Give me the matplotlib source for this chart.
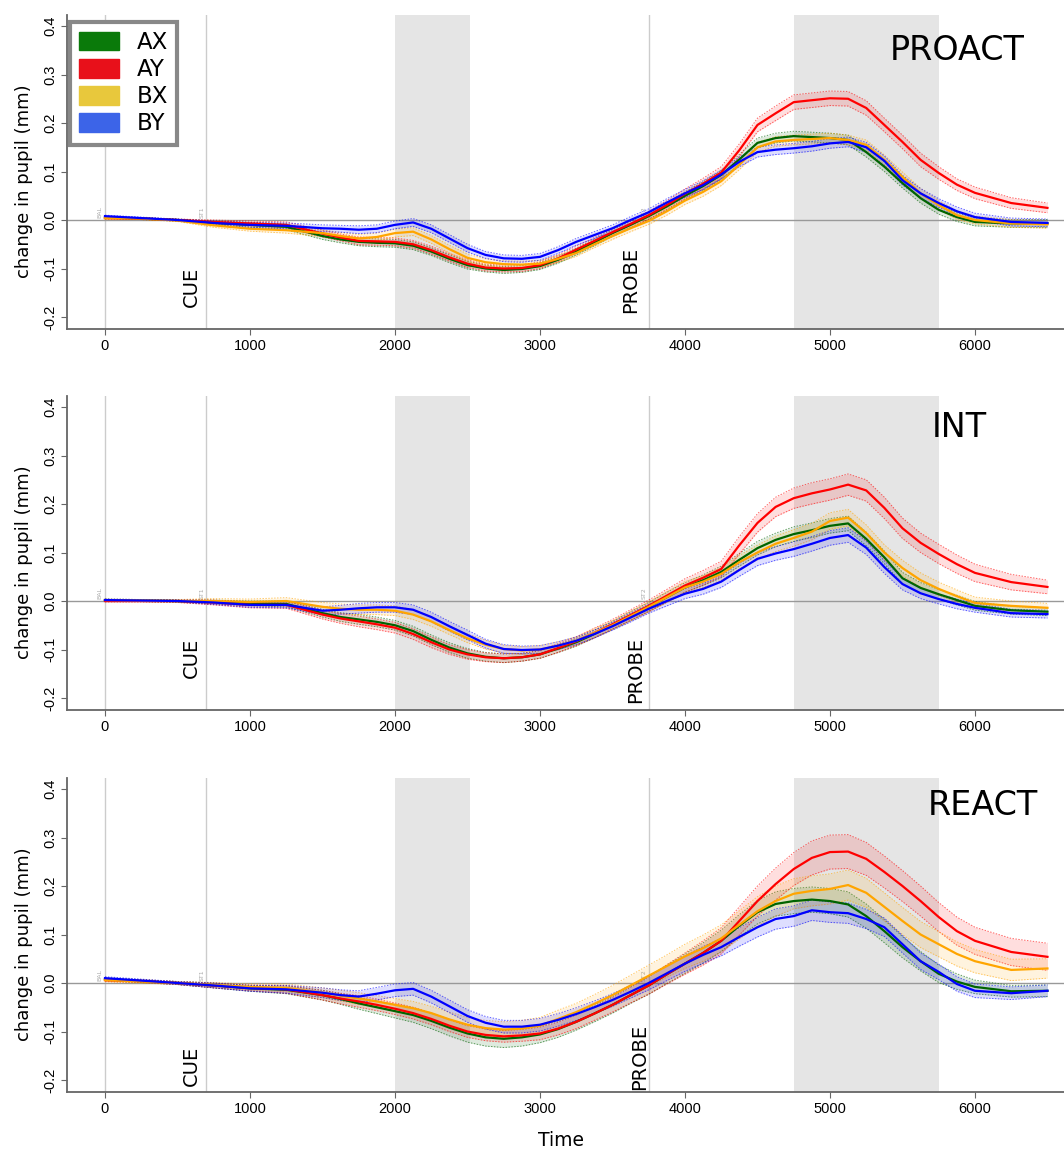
import numpy as np
import matplotlib.pyplot as plt
from matplotlib.patches import Patch

plt.rcParams.update({"font.family": "DejaVu Sans"})

TIME = [0, 250, 500, 750, 1000, 1250, 1500, 1625, 1750, 1875, 2000, 2125, 2250, 2375, 2500,
        2625, 2750, 2875, 3000, 3125, 3250, 3375, 3500, 3625, 3750, 3875, 4000, 4125, 4250, 4375,
        4500, 4625, 4750, 4875, 5000, 5125, 5250, 5375, 5500, 5625, 5750, 5875, 6000, 6250, 6500]
CONDS = ["AX", "AY", "BX", "BY"]
LINE_COLORS = {"AX": "#006400", "AY": "#ff0000", "BX": "#ffa500", "BY": "#0000ff"}
LEGEND_COLORS = {"AX": "#0a7a0a", "AY": "#e8101a", "BX": "#e8c83c", "BY": "#3c64e8"}

# mean change in pupil (mm), one value per TIME point
PROACT_AX = [.005, .003, .000, -.006, -.010, -.014, -.033, -.040, -.045, -.047, -.048, -.053, -.065, -.080, -.093,
             -.100, -.103, -.101, -.095, -.082, -.065, -.046, -.027, -.010, .008, .028, .050, .070, .093, .125,
             .159, .169, .173, .171, .169, .165, .140, .110, .076, .045, .021, .006, -.004, -.007, -.007]
PROACT_AY = [.004, .003, .000, -.004, -.007, -.010, -.028, -.036, -.043, -.044, -.045, -.050, -.062, -.077, -.090,
             -.098, -.100, -.099, -.093, -.079, -.061, -.043, -.025, -.008, .010, .031, .054, .075, .098, .144,
             .196, .220, .243, .247, .251, .250, .231, .196, .161, .124, .097, .073, .056, .035, .025]
PROACT_BX = [.004, .003, -.001, -.011, -.018, -.021, -.027, -.033, -.038, -.035, -.027, -.024, -.040, -.060, -.078,
             -.087, -.091, -.092, -.090, -.080, -.068, -.050, -.033, -.017, -.002, .018, .040, .058, .080, .114,
             .150, .162, .165, .167, .169, .165, .155, .124, .089, .055, .031, .010, .000, -.007, -.009]
PROACT_BY = [.008, .004, .000, -.006, -.010, -.012, -.017, -.018, -.020, -.018, -.010, -.005, -.018, -.038, -.058,
             -.072, -.079, -.080, -.076, -.062, -.045, -.031, -.017, .000, .016, .036, .055, .072, .094, .120,
             .140, .145, .148, .152, .158, .161, .150, .122, .082, .055, .035, .018, .006, -.004, -.006]

INT_AX = [.002, .001, .000, -.002, -.005, -.006, -.025, -.033, -.038, -.043, -.050, -.062, -.080, -.096, -.108,
          -.115, -.118, -.116, -.110, -.098, -.085, -.068, -.050, -.031, -.012, .008, .028, .043, .060, .085,
          .109, .126, .138, .146, .155, .160, .128, .090, .047, .027, .014, .002, -.010, -.019, -.022]
INT_AY = [.000, .000, .000, -.003, -.008, -.008, -.028, -.036, -.042, -.048, -.055, -.068, -.085, -.100, -.110,
          -.116, -.118, -.116, -.110, -.097, -.083, -.066, -.048, -.029, -.010, .011, .032, .048, .066, .115,
          .161, .194, .212, .222, .230, .240, .228, .192, .150, .120, .097, .076, .058, .039, .029]
INT_BX = [.002, .001, .000, .000, -.002, .000, -.012, -.016, -.018, -.018, -.020, -.028, -.042, -.060, -.077,
          -.090, -.099, -.102, -.100, -.092, -.082, -.066, -.050, -.031, -.012, .008, .028, .040, .056, .080,
          .100, .118, .130, .143, .165, .172, .140, .100, .068, .043, .025, .010, -.004, -.010, -.014]
INT_BY = [.002, .001, .000, -.003, -.008, -.008, -.020, -.018, -.015, -.013, -.013, -.018, -.033, -.052, -.070,
          -.088, -.099, -.101, -.100, -.092, -.082, -.068, -.052, -.034, -.016, .000, .015, .025, .040, .064,
          .087, .098, .107, .118, .130, .136, .110, .070, .035, .016, .004, -.006, -.014, -.025, -.027]

REACT_AX = [.008, .004, .000, -.005, -.011, -.014, -.025, -.033, -.042, -.050, -.058, -.066, -.078, -.092, -.104,
            -.112, -.115, -.112, -.106, -.095, -.080, -.063, -.045, -.025, -.005, .018, .040, .062, .087, .118,
            .146, .163, .169, .172, .169, .162, .138, .107, .074, .045, .019, .003, -.008, -.017, -.016]
REACT_AY = [.006, .004, .000, -.005, -.010, -.013, -.025, -.032, -.038, -.045, -.053, -.062, -.074, -.088, -.100,
            -.107, -.110, -.108, -.104, -.094, -.080, -.063, -.045, -.025, -.005, .018, .040, .062, .087, .128,
            .169, .204, .235, .258, .270, .271, .256, .229, .200, .169, .136, .107, .087, .064, .054]
REACT_BX = [.006, .003, .000, -.004, -.008, -.010, -.020, -.026, -.032, -.038, -.045, -.052, -.062, -.075, -.086,
            -.093, -.096, -.094, -.088, -.074, -.060, -.043, -.025, -.005, .015, .035, .055, .072, .092, .120,
            .148, .169, .184, .190, .194, .202, .186, .157, .128, .100, .080, .060, .045, .027, .030]
REACT_BY = [.010, .005, .000, -.005, -.011, -.013, -.020, -.025, -.028, -.022, -.015, -.012, -.028, -.048, -.068,
            -.082, -.090, -.090, -.086, -.076, -.064, -.050, -.035, -.018, .000, .020, .040, .058, .074, .095,
            .115, .132, .138, .150, .146, .144, .132, .115, .080, .045, .023, -.002, -.016, -.021, -.016]

# standard error half-widths, one value per TIME point
SE_SMALL = [.002, .002, .002, .004, .005, .006, .007, .007, .008, .008, .008, .008, .008, .008, .008,
            .007, .007, .007, .007, .007, .007, .007, .007, .007, .007, .008, .008, .009, .009, .010,
            .010, .010, .010, .010, .010, .010, .010, .010, .010, .010, .009, .009, .008, .008, .008]
SE_PROACT_AY = [.002, .002, .002, .004, .005, .006, .007, .007, .008, .008, .008, .008, .008, .008, .008,
                .007, .007, .007, .007, .007, .007, .007, .007, .007, .008, .009, .010, .011, .012, .013,
                .014, .015, .015, .015, .015, .015, .015, .014, .014, .014, .013, .012, .012, .011, .010]
SE_INT_AX = [.002, .002, .002, .004, .005, .006, .008, .009, .010, .010, .010, .010, .010, .010, .010,
             .009, .009, .008, .008, .008, .008, .008, .008, .009, .009, .010, .010, .011, .012, .013,
             .014, .014, .015, .015, .015, .015, .014, .013, .012, .011, .010, .010, .009, .008, .008]
SE_INT_AY = [.002, .002, .003, .005, .006, .007, .009, .010, .011, .011, .011, .011, .011, .010, .010,
             .009, .009, .008, .008, .009, .009, .010, .010, .011, .012, .013, .014, .015, .016, .018,
             .019, .020, .021, .022, .022, .022, .022, .022, .021, .020, .020, .019, .018, .016, .014]
SE_INT_BX = [.002, .002, .003, .005, .006, .007, .009, .010, .010, .010, .010, .010, .010, .009, .009,
             .009, .008, .008, .008, .008, .008, .009, .009, .010, .010, .011, .012, .012, .013, .014,
             .015, .016, .017, .017, .017, .017, .017, .016, .016, .015, .014, .013, .012, .010, .009]
SE_REACT_AX = [.003, .003, .003, .005, .006, .008, .010, .011, .012, .013, .014, .015, .016, .017, .018,
               .018, .018, .018, .017, .017, .017, .017, .017, .017, .018, .019, .020, .021, .022, .023,
               .024, .025, .026, .026, .026, .026, .025, .024, .022, .020, .018, .016, .014, .012, .012]
SE_REACT_AY = [.003, .003, .003, .005, .006, .008, .010, .011, .012, .012, .012, .012, .012, .012, .012,
               .012, .012, .012, .013, .013, .014, .014, .015, .016, .018, .020, .022, .025, .027, .029,
               .031, .033, .034, .035, .035, .035, .034, .033, .032, .031, .030, .029, .028, .028, .028]
SE_REACT_BX = [.003, .003, .003, .005, .006, .008, .010, .011, .012, .012, .013, .014, .014, .015, .015,
               .016, .016, .017, .017, .018, .018, .019, .020, .021, .022, .023, .025, .027, .028, .029,
               .030, .031, .031, .031, .031, .031, .030, .029, .028, .027, .026, .025, .024, .022, .020]
SE_REACT_BY = [.003, .003, .003, .005, .006, .008, .010, .011, .012, .013, .013, .013, .013, .013, .013,
               .013, .013, .013, .013, .013, .013, .013, .013, .013, .014, .015, .016, .017, .018, .019,
               .020, .021, .021, .021, .021, .021, .020, .019, .018, .017, .016, .015, .014, .013, .012]

PANELS = [
    ("PROACT", {"AX": PROACT_AX, "AY": PROACT_AY, "BX": PROACT_BX, "BY": PROACT_BY},
     {"AX": SE_SMALL, "AY": SE_PROACT_AY, "BX": SE_SMALL, "BY": SE_SMALL}),
    ("INT", {"AX": INT_AX, "AY": INT_AY, "BX": INT_BX, "BY": INT_BY},
     {"AX": SE_INT_AX, "AY": SE_INT_AY, "BX": SE_INT_BX, "BY": SE_INT_AX}),
    ("REACT", {"AX": REACT_AX, "AY": REACT_AY, "BX": REACT_BX, "BY": REACT_BY},
     {"AX": SE_REACT_AX, "AY": SE_REACT_AY, "BX": SE_REACT_BX, "BY": SE_REACT_BY}),
]

EVENTS = [(0, "BAL"), (700, "ST1"), (3750, "ST2")]
WINDOWS = [(2000, 2520), (4750, 5750)]

# per panel: (title x, title y, cue y, probe x, probe y)
TEXT_POS = [(6345, 0.35, -0.18, 3628, -0.192),
            (6083, 0.358, -0.159, 3660, -0.21),
            (6434, 0.367, -0.212, 3690, -0.22)]
AX_TOPS = [15, 396, 778]

W, H = 1064, 1150
fig = plt.figure(figsize=(W / 100, H / 100), dpi=100)
t = np.array(TIME)

for i, (name, means, ses) in enumerate(PANELS):
    top = AX_TOPS[i]
    ax = fig.add_axes([67 / W, 1 - (top + 314) / H, 997 / W, 314 / H])
    ax.set_xlim(-262, 6614)
    ax.set_ylim(-0.2247, 0.4227)

    for a, b in WINDOWS:
        ax.axvspan(a, b, color="#e5e5e5", lw=0, zorder=0)
    for x, lab in EVENTS:
        ax.axvline(x, color="#cccccc", lw=1, zorder=1)
        ax.text(x - 15, 0.004, lab, fontsize=4.5, color="#aaaaaa", rotation=90,
                ha="right", va="bottom", zorder=2)
    ax.axhline(0, color="#999999", lw=1, zorder=1)

    for c in CONDS:
        m = np.array(means[c])
        s = np.array(ses[c])
        col = LINE_COLORS[c]
        ax.fill_between(t, m - s, m + s, color=col, alpha=0.13, lw=0, zorder=3)
        ax.plot(t, m - s, color=col, lw=0.7, ls=(0, (1.5, 1.5)), alpha=0.6, zorder=3)
        ax.plot(t, m + s, color=col, lw=0.7, ls=(0, (1.5, 1.5)), alpha=0.6, zorder=3)
    for c in CONDS:
        ax.plot(t, means[c], color=LINE_COLORS[c], lw=1.6, zorder=4)

    tx, ty, cue_y, px, py = TEXT_POS[i]
    ax.text(tx, ty, name, fontsize=24, ha="right", va="center")
    ax.text(593, cue_y, "CUE", fontsize=14, rotation=90, ha="center", va="bottom")
    ax.text(px, py, "PROBE", fontsize=14, rotation=90, ha="center", va="bottom")

    for side in ["top", "right"]:
        ax.spines[side].set_visible(False)
    for side in ["left", "bottom"]:
        ax.spines[side].set_color("#666666")
        ax.spines[side].set_linewidth(1.3)
    ax.set_xticks([0, 1000, 2000, 3000, 4000, 5000, 6000])
    ax.set_yticks([-0.2, -0.1, 0.0, 0.1, 0.2, 0.3, 0.4])
    ax.set_yticklabels(["-0.2", "-0.1", "0.0", "0.1", "0.2", "0.3", "0.4"],
                       rotation=90, va="center")
    ax.tick_params(axis="both", direction="out", length=4, width=0.8, color="#666666",
                   labelsize=10.5, pad=3)
    for lbl in ax.get_xticklabels() + ax.get_yticklabels():
        lbl.set_family("Liberation Sans")
    ax.set_ylabel("change in pupil (mm)", fontsize=13)
    ax.yaxis.set_label_coords(-0.034, 0.47)

    if i == 0:
        handles = [Patch(facecolor=LEGEND_COLORS[c], edgecolor=LEGEND_COLORS[c]) for c in CONDS]
        leg = ax.legend(handles, CONDS, loc="upper left", bbox_to_anchor=(0.003, 0.978),
                        borderaxespad=0, fontsize=16.5, fancybox=False, framealpha=1,
                        handlelength=1.75, handleheight=0.87, labelspacing=0.18,
                        handletextpad=0.75, borderpad=0.4)
        leg.get_frame().set_edgecolor("#888888")
        leg.get_frame().set_linewidth(3)
        leg.set_zorder(10)

fig.text(561 / W, 1 - 1140 / H, "Time", fontsize=13.5, ha="center", va="center")

fig.savefig("out.png", dpi=100)
